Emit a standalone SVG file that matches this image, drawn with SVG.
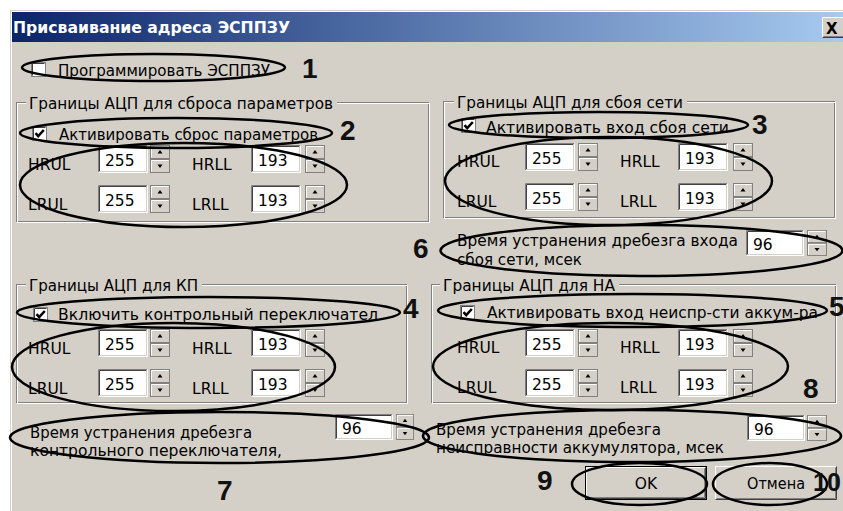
<svg xmlns="http://www.w3.org/2000/svg" width="843" height="511" viewBox="0 0 843 511">
<style>
.ui{font-family:"DejaVu Sans",Tahoma,sans-serif;font-size:15.5px;fill:#000}
.ttl{font-family:"DejaVu Sans",Tahoma,sans-serif;font-size:15.5px;font-weight:bold;fill:#fff}
.num{font-family:"Liberation Sans",Arial,sans-serif;font-size:28px;font-weight:bold;fill:#111}
.oval{fill:none;stroke:#000;stroke-width:2.5}
.fd{fill:none;stroke:#808080;stroke-width:1}
.fl{fill:none;stroke:#fff;stroke-width:1}
.bg{fill:#d4d0c8}
.s1{fill:none;stroke:#fff;stroke-width:1}
.s2{fill:none;stroke:#404040;stroke-width:1}
.s3{fill:none;stroke:#808080;stroke-width:1}
.s4{fill:none;stroke:#d4d0c8;stroke-width:1}
</style>
<defs>
<linearGradient id="tg" x1="0" y1="0" x2="1" y2="0">
<stop offset="0" stop-color="#0a246a"/>
<stop offset="1" stop-color="#a6caf0"/>
</linearGradient>
<symbol id="spin" viewBox="0 0 20 28" preserveAspectRatio="none">
<rect x="0" y="0" width="20" height="28" fill="#d4d0c8"/>
<rect class="s3" x="0.5" y="0.5" width="19" height="13"/>
<rect class="s3" x="0.5" y="14.5" width="19" height="13"/>
<path class="s1" d="M1.5 12.5V1.5H18.5"/>
<path class="s1" d="M1.5 26.5V15.5H18.5"/>
<polygon points="10,5 12.5,8.5 7.5,8.5" fill="#000"/>
<polygon points="7.5,19.5 12.5,19.5 10,23" fill="#000"/>
</symbol>
<symbol id="ed50" viewBox="0 0 50 28">
<rect x="0" y="0" width="50" height="28" fill="#fff"/>
<path class="s3" d="M0.5 27.5V0.5H49.5"/>
<path class="s2" d="M1.5 26.5V1.5H48.5"/>
<path class="s1" d="M0.5 27.5H49.5V0.5"/>
<path class="s4" d="M1.5 26.5H48.5V1.5"/>
</symbol>
<symbol id="ed58" viewBox="0 0 58 26">
<rect x="0" y="0" width="58" height="26" fill="#fff"/>
<path class="s3" d="M0.5 25.5V0.5H57.5"/>
<path class="s2" d="M1.5 24.5V1.5H56.5"/>
<path class="s1" d="M0.5 25.5H57.5V0.5"/>
<path class="s4" d="M1.5 24.5H56.5V1.5"/>
</symbol>
<symbol id="cb" viewBox="0 0 15 15">
<rect x="0" y="0" width="15" height="15" fill="#fff"/>
<rect class="s3" x="0.5" y="0.5" width="14" height="14"/>
<path class="s2" d="M1.5 13.5V1.5H13.5"/>
</symbol>
<path id="chk" d="M3.5 7.2L6.2 10.2L11.8 4" fill="none" stroke="#000" stroke-width="2.5"/>
</defs>

<rect x="0" y="0" width="843" height="511" fill="#fff"/>
<g id="window">
<rect x="10" y="10" width="833" height="501" fill="#d4d0c8"/>
<path d="M11.5 511V11.5H843" fill="none" stroke="#fff"/>
<rect x="12" y="12" width="831" height="30" fill="url(#tg)"/>
<text class="ttl" x="13" y="33" textLength="277" lengthAdjust="spacingAndGlyphs">Присваивание адреса ЭСППЗУ</text>
<g id="close">
<rect x="822" y="17" width="21" height="21" fill="#d4d0c8"/>
<path class="s1" d="M822.5 37.5V17.5H843"/>
<path class="s2" d="M822.5 37.5H843"/>
<path class="s3" d="M823.5 36.5H843"/>
<text x="826" y="34" style="font-family:'DejaVu Sans',sans-serif;font-size:15px;font-weight:bold;fill:#000">X</text>
</g>
</g>

<g id="prog">
<use href="#cb" x="31" y="62" width="15" height="15"/>
<text class="ui" x="58" y="76" textLength="212" lengthAdjust="spacingAndGlyphs">Программировать ЭСППЗУ</text>
</g>

<g id="group-reset">
<rect class="fd" x="16.5" y="102.5" width="412" height="119"/>
<rect class="fl" x="17.5" y="103.5" width="412" height="119"/>
<rect class="bg" x="26" y="96" width="311" height="14"/>
<text class="ui" x="29" y="109" textLength="304" lengthAdjust="spacingAndGlyphs">Границы АЦП для сброса параметров</text>
<use href="#cb" x="32" y="126" width="15" height="15"/><use href="#chk" x="32" y="126"/>
<text class="ui" x="59" y="140" textLength="259" lengthAdjust="spacingAndGlyphs">Активировать сброс параметров</text>
<text class="ui" x="28" y="170">HRUL</text>
<use href="#ed50" x="98" y="145" width="50" height="28"/><text class="ui" x="105" y="166">255</text>
<use href="#spin" x="150" y="145" width="20" height="28"/>
<text class="ui" x="192" y="170">HRLL</text>
<use href="#ed50" x="251" y="145" width="50" height="28"/><text class="ui" x="258" y="166">193</text>
<use href="#spin" x="305" y="145" width="20" height="28"/>
<text class="ui" x="28" y="210">LRUL</text>
<use href="#ed50" x="98" y="185" width="50" height="28"/><text class="ui" x="105" y="206">255</text>
<use href="#spin" x="150" y="185" width="20" height="28"/>
<text class="ui" x="192" y="210">LRLL</text>
<use href="#ed50" x="251" y="185" width="50" height="28"/><text class="ui" x="258" y="206">193</text>
<use href="#spin" x="305" y="185" width="20" height="28"/>
</g>

<g id="group-net">
<rect class="fd" x="443.5" y="101.5" width="391" height="116"/>
<rect class="fl" x="444.5" y="102.5" width="391" height="116"/>
<rect class="bg" x="454" y="95" width="233" height="14"/>
<text class="ui" x="457" y="108" textLength="226" lengthAdjust="spacingAndGlyphs">Границы АЦП для сбоя сети</text>
<use href="#cb" x="461" y="118" width="15" height="15"/><use href="#chk" x="461" y="118"/>
<text class="ui" x="486" y="133" textLength="243" lengthAdjust="spacingAndGlyphs">Активировать вход сбоя сети</text>
<text class="ui" x="457" y="167">HRUL</text>
<use href="#ed50" x="525" y="143" width="50" height="28"/><text class="ui" x="532" y="164">255</text>
<use href="#spin" x="578" y="143" width="20" height="28"/>
<text class="ui" x="620" y="167">HRLL</text>
<use href="#ed50" x="678" y="143" width="50" height="28"/><text class="ui" x="685" y="164">193</text>
<use href="#spin" x="733" y="143" width="20" height="28"/>
<text class="ui" x="457" y="207">LRUL</text>
<use href="#ed50" x="525" y="183" width="50" height="28"/><text class="ui" x="532" y="204">255</text>
<use href="#spin" x="578" y="183" width="20" height="28"/>
<text class="ui" x="620" y="207">LRLL</text>
<use href="#ed50" x="678" y="183" width="50" height="28"/><text class="ui" x="685" y="204">193</text>
<use href="#spin" x="733" y="183" width="20" height="28"/>
</g>

<g id="debounce-net">
<text class="ui" x="457" y="246" textLength="281" lengthAdjust="spacingAndGlyphs">Время устранения дребезга входа</text>
<text class="ui" x="457" y="265" textLength="125" lengthAdjust="spacingAndGlyphs">сбоя сети, мсек</text>
<use href="#ed58" x="746" y="230" width="58" height="26"/><text class="ui" x="753" y="250">96</text>
<use href="#spin" x="807" y="230" width="20" height="26"/>
</g>

<g id="group-kp">
<rect class="fd" x="16.5" y="284.5" width="390" height="118"/>
<rect class="fl" x="17.5" y="285.5" width="390" height="118"/>
<rect class="bg" x="26" y="278" width="176" height="14"/>
<text class="ui" x="29" y="291" textLength="169" lengthAdjust="spacingAndGlyphs">Границы АЦП для КП</text>
<use href="#cb" x="33" y="307" width="15" height="15"/><use href="#chk" x="33" y="307"/>
<text class="ui" x="58" y="320" textLength="320" lengthAdjust="spacingAndGlyphs">Включить контрольный переключател</text>
<text class="ui" x="28" y="354">HRUL</text>
<use href="#ed50" x="98" y="329" width="50" height="28"/><text class="ui" x="105" y="350">255</text>
<use href="#spin" x="150" y="329" width="20" height="28"/>
<text class="ui" x="192" y="354">HRLL</text>
<use href="#ed50" x="251" y="329" width="50" height="28"/><text class="ui" x="258" y="350">193</text>
<use href="#spin" x="305" y="329" width="20" height="28"/>
<text class="ui" x="28" y="394">LRUL</text>
<use href="#ed50" x="98" y="369" width="50" height="28"/><text class="ui" x="105" y="390">255</text>
<use href="#spin" x="150" y="369" width="20" height="28"/>
<text class="ui" x="192" y="394">LRLL</text>
<use href="#ed50" x="251" y="369" width="50" height="28"/><text class="ui" x="258" y="390">193</text>
<use href="#spin" x="305" y="369" width="20" height="28"/>
</g>

<g id="group-na">
<rect class="fd" x="431.5" y="284.5" width="404" height="118"/>
<rect class="fl" x="432.5" y="285.5" width="404" height="118"/>
<rect class="bg" x="440" y="278" width="179" height="14"/>
<text class="ui" x="443" y="291" textLength="172" lengthAdjust="spacingAndGlyphs">Границы АЦП для НА</text>
<use href="#cb" x="460" y="305" width="15" height="15"/><use href="#chk" x="460" y="305"/>
<text class="ui" x="487" y="318" textLength="331" lengthAdjust="spacingAndGlyphs">Активировать вход неиспр-сти аккум-ра</text>
<text class="ui" x="457" y="353">HRUL</text>
<use href="#ed50" x="525" y="329" width="50" height="28"/><text class="ui" x="532" y="350">255</text>
<use href="#spin" x="578" y="329" width="20" height="28"/>
<text class="ui" x="620" y="353">HRLL</text>
<use href="#ed50" x="678" y="329" width="50" height="28"/><text class="ui" x="685" y="350">193</text>
<use href="#spin" x="733" y="329" width="20" height="28"/>
<text class="ui" x="457" y="393">LRUL</text>
<use href="#ed50" x="525" y="369" width="50" height="28"/><text class="ui" x="532" y="390">255</text>
<use href="#spin" x="578" y="369" width="20" height="28"/>
<text class="ui" x="620" y="393">LRLL</text>
<use href="#ed50" x="678" y="369" width="50" height="28"/><text class="ui" x="685" y="390">193</text>
<use href="#spin" x="733" y="369" width="20" height="28"/>
</g>

<g id="debounce-kp">
<text class="ui" x="30" y="438" textLength="222" lengthAdjust="spacingAndGlyphs">Время устранения дребезга</text>
<text class="ui" x="30" y="456" textLength="252" lengthAdjust="spacingAndGlyphs">контрольного переключателя,</text>
<use href="#ed58" x="335" y="414" width="58" height="26"/><text class="ui" x="342" y="434">96</text>
<use href="#spin" x="396" y="414" width="18" height="26"/>
</g>

<g id="debounce-na">
<text class="ui" x="436" y="435" textLength="225" lengthAdjust="spacingAndGlyphs">Время устранения дребезга</text>
<text class="ui" x="436" y="453" textLength="288" lengthAdjust="spacingAndGlyphs">неисправности аккумулятора, мсек</text>
<use href="#ed58" x="747" y="415" width="58" height="26"/><text class="ui" x="754" y="435">96</text>
<use href="#spin" x="807" y="415" width="20" height="26"/>
</g>

<g id="btn-ok">
<rect x="585" y="466" width="122" height="34" fill="#d4d0c8"/>
<rect x="585.5" y="466.5" width="121" height="33" fill="none" stroke="#000"/>
<path class="s1" d="M586.5 498.5V467.5H705.5"/>
<path class="s2" d="M586.5 498.5H705.5V467.5"/>
<path class="s3" d="M587.5 497.5H704.5V468.5"/>
<text class="ui" x="646" y="489" text-anchor="middle">OK</text>
</g>

<g id="btn-cancel">
<rect x="715" y="466" width="122" height="34" fill="#d4d0c8"/>
<path class="s1" d="M715.5 499.5V466.5H836.5"/>
<path class="s2" d="M715.5 499.5H836.5V466.5"/>
<path class="s3" d="M716.5 498.5H835.5V467.5"/>
<text class="ui" x="776" y="489" text-anchor="middle" textLength="58" lengthAdjust="spacingAndGlyphs">Отмена</text>
</g>

<g id="callouts">
<ellipse class="oval" cx="153.5" cy="67.5" rx="131.5" ry="13.5"/>
<ellipse class="oval" cx="176" cy="133" rx="156" ry="15"/>
<ellipse class="oval" cx="183.5" cy="185" rx="163.5" ry="42"/>
<ellipse class="oval" cx="598.5" cy="125" rx="149.5" ry="13"/>
<ellipse class="oval" cx="608.5" cy="181" rx="163.5" ry="44"/>
<ellipse class="oval" cx="641.5" cy="250.5" rx="201" ry="25.5"/>
<ellipse class="oval" cx="208.5" cy="312.5" rx="191.5" ry="15.5"/>
<ellipse class="oval" cx="173.5" cy="367" rx="161.5" ry="44"/>
<ellipse class="oval" cx="632.5" cy="310.5" rx="194.5" ry="16.5"/>
<ellipse class="oval" cx="610.5" cy="366.5" rx="177.5" ry="43.5"/>
<ellipse class="oval" cx="219.5" cy="437.5" rx="209.5" ry="25.5"/>
<ellipse class="oval" cx="632" cy="436" rx="209" ry="26"/>
<ellipse class="oval" cx="639.5" cy="484" rx="67.5" ry="21"/>
<ellipse class="oval" cx="770" cy="484" rx="57" ry="21"/>
</g>

<g id="numbers">
<text class="num" x="302" y="78">1</text>
<text class="num" x="340" y="140">2</text>
<text class="num" x="752" y="134">3</text>
<text class="num" x="403" y="318">4</text>
<text class="num" x="829" y="316">5</text>
<text class="num" x="413" y="258">6</text>
<text class="num" x="217" y="500">7</text>
<text class="num" x="803" y="398">8</text>
<text class="num" x="537" y="490">9</text>
<text class="num" x="813" y="491" style="font-size:25px">10</text>
</g>
</svg>
